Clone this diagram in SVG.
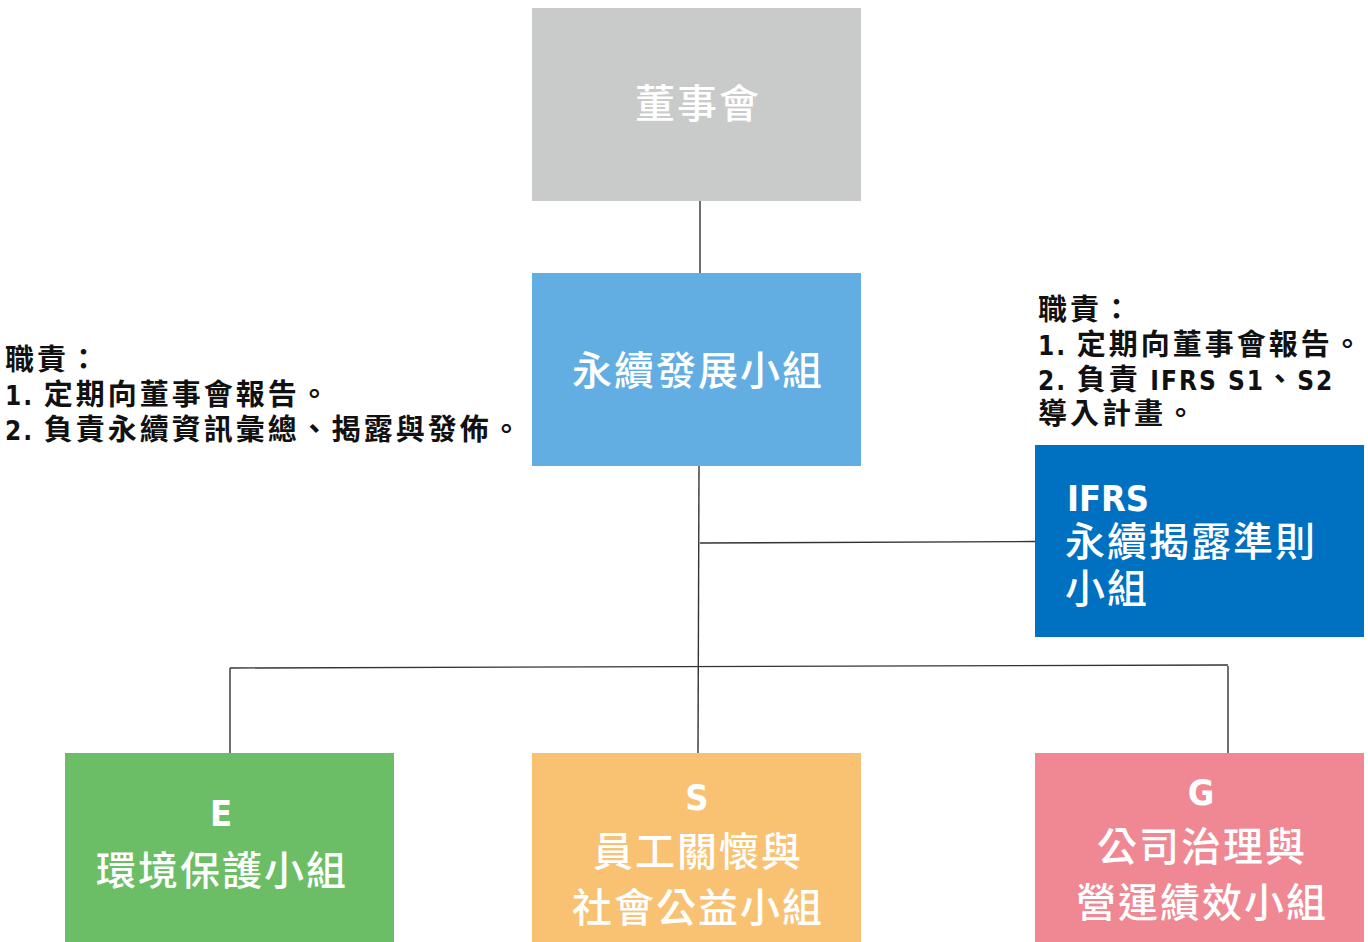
<svg xmlns="http://www.w3.org/2000/svg" width="1368" height="942" viewBox="0 0 1368 942">
<style>
.box{stroke:none}
.nt{font-family:"Noto Sans CJK TC","Noto Sans CJK SC",sans-serif;font-size:40px;fill:#fff;letter-spacing:2px;font-weight:500}
.lat{font-family:"DejaVu Sans","Noto Sans",sans-serif;font-stretch:condensed;font-weight:bold;font-size:36px;fill:#fff}
.lab{font-family:"Noto Sans CJK TC","Noto Sans CJK SC",sans-serif;font-size:29px;font-weight:bold;fill:#111;letter-spacing:3px}
.labn{font-family:"DejaVu Sans","Liberation Sans",sans-serif;font-stretch:condensed;font-weight:bold;letter-spacing:2px;font-size:26px}
.ln{stroke:#333;stroke-width:1.4;fill:none}
</style>
<rect width="1368" height="942" fill="#fff"/>
<g id="connectors">
<line class="ln" x1="700" y1="201" x2="700" y2="273"/>
<line class="ln" x1="699" y1="466" x2="698" y2="753"/>
<line class="ln" x1="700" y1="543" x2="1035" y2="541.5"/>
<line class="ln" x1="230" y1="668" x2="1228" y2="665"/>
<line class="ln" x1="230" y1="668" x2="230" y2="753"/>
<line class="ln" x1="1228" y1="666" x2="1228" y2="753"/>
</g>
<g id="board">
<rect class="box" x="532" y="8" width="329" height="193" fill="#C9CACA"/>
<text class="nt" x="698" y="118" text-anchor="middle">董事會</text>
</g>
<g id="sdg">
<rect class="box" x="532" y="273" width="329" height="193" fill="#62AEE2"/>
<text class="nt" x="698" y="385" text-anchor="middle">永續發展小組</text>
</g>
<g id="ifrs">
<rect class="box" x="1035" y="445" width="329" height="192" fill="#0071C1"/>
<text class="lat" x="1067" y="511" textLength="82" lengthAdjust="spacingAndGlyphs">IFRS</text>
<text class="nt" x="1065" y="556">永續揭露準則</text>
<text class="nt" x="1065" y="603">小組</text>
</g>
<g id="env">
<rect class="box" x="65" y="753" width="329" height="189" fill="#6CBE66"/>
<text class="lat" x="221" y="826" text-anchor="middle">E</text>
<text class="nt" x="222" y="885" text-anchor="middle">環境保護小組</text>
</g>
<g id="soc">
<rect class="box" x="532" y="753" width="329" height="189" fill="#F8C272"/>
<text class="lat" x="697" y="810" text-anchor="middle">S</text>
<text class="nt" x="698" y="866" text-anchor="middle">員工關懷與</text>
<text class="nt" x="698" y="922" text-anchor="middle">社會公益小組</text>
</g>
<g id="gov">
<rect class="box" x="1035" y="753" width="329" height="189" fill="#EF8892"/>
<text class="lat" x="1201" y="805" text-anchor="middle">G</text>
<text class="nt" x="1202" y="861" text-anchor="middle">公司治理與</text>
<text class="nt" x="1202" y="917" text-anchor="middle">營運績效小組</text>
</g>
<g id="note-left">
<text class="lab" x="5" y="370">職責：</text>
<text class="lab" x="5" y="405"><tspan class="labn">1.</tspan> 定期向董事會報告。</text>
<text class="lab" x="5" y="440"><tspan class="labn">2.</tspan> 負責永續資訊彙總、揭露與發佈。</text>
</g>
<g id="note-right">
<text class="lab" x="1038" y="320">職責：</text>
<text class="lab" x="1038" y="355"><tspan class="labn">1.</tspan> 定期向董事會報告。</text>
<text class="lab" x="1038" y="390"><tspan class="labn">2.</tspan> 負責 <tspan class="labn">IFRS S1</tspan>、<tspan class="labn">S2</tspan></text>
<text class="lab" x="1038" y="424">導入計畫。</text>
</g>
</svg>
